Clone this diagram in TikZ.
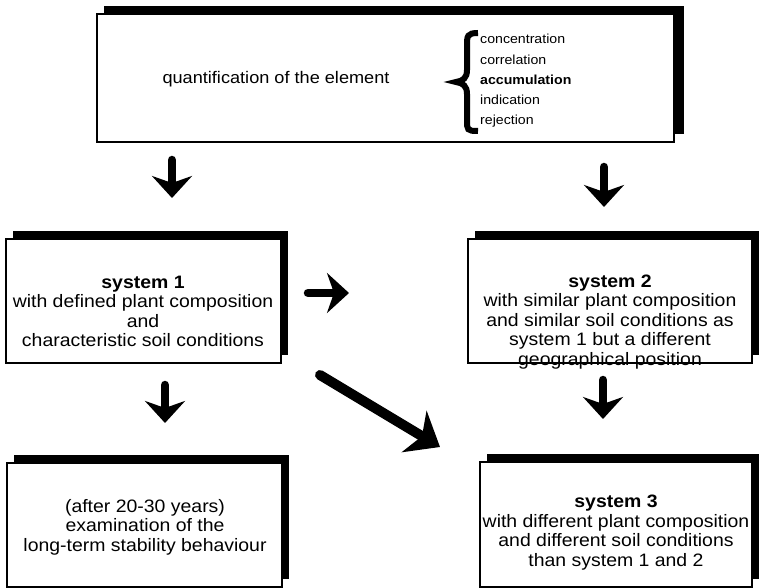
\documentclass[tikz,border=0pt]{standalone}
\usepackage{fontspec}
\setmainfont{Liberation Sans}[FakeStretch=1.08]
\usetikzlibrary{arrows.meta,shadows}
\tikzset{
  box/.style={draw=black, line width=2pt, fill=white, inner sep=0pt,
    general shadow={fill=black, shadow xshift=7pt, shadow yshift=8pt}},
  boxtext/.style={align=center, inner sep=0pt, font=\fontsize{18}{19.5}\selectfont},
  fat/.style={line width=8.5pt, line cap=round, -{Stealth[length=22pt,width=40pt,inset=7pt]}},
  fatter/.style={line width=10pt, line cap=round, -{Stealth[length=30pt,width=48pt,inset=9pt]}},
}
\begin{document}
\begin{tikzpicture}[x=1pt,y=-1pt]
\useasboundingbox (0,0) rectangle (760,588);
% boxes
\node[box, general shadow={fill=black, shadow xshift=10pt, shadow yshift=8pt},
      minimum width=577pt, minimum height=128pt] (top) at (385.5,78) {};
\node[box, minimum width=275pt, minimum height=124pt] (s1) at (143.5,301) {};
\node[box, minimum width=284pt, minimum height=124pt] (s2) at (610,301) {};
\node[box, minimum width=275pt, minimum height=124pt] (lt) at (144.5,525) {};
\node[box, minimum width=272pt, minimum height=125pt] (s3) at (616,524.5) {};
% top box content
\node[inner sep=0pt, font=\fontsize{16.8}{18}\selectfont] (quant) at (276,79) {quantification of the element};
\draw[line width=6pt, line cap=butt] (478,33) .. controls (467,33) and (467,36) .. (467,46)
  -- (467,70) .. controls (467,78) and (463,81) .. (456,82)
  .. controls (463,83) and (467,86) .. (467,94) -- (467,120)
  .. controls (467,130) and (467,131) .. (478,131);
\node[anchor=west, inner sep=0pt, align=left, font=\fontsize{13.1}{20.3}\selectfont] (list) at (480,81)
  {concentration\\correlation\\\textbf{accumulation}\\indication\\rejection};
% box texts
\node[boxtext] (t1) at (143,311.5) {\textbf{system 1}\\with defined plant composition\\and\\characteristic soil conditions};
\node[boxtext] (t2) at (610,322) {\textbf{system 2}\\with similar plant composition\\and similar soil conditions as\\system 1 but a different\\geographical position};
\node[boxtext] (t4) at (145,527) {(after 20-30 years)\\examination of the\\long-term stability behaviour};
\node[boxtext] (t3) at (616,532.5) {\textbf{system 3}\\with different plant composition\\and different soil conditions\\than system 1 and 2};
% arrow anchors
\coordinate (a1) at (172,160); \coordinate (a2) at (172,198);
\coordinate (b1) at (604,167); \coordinate (b2) at (604,207);
\coordinate (c1) at (308,293); \coordinate (c2) at (349,293);
\coordinate (d1) at (165,385); \coordinate (d2) at (165,423);
\coordinate (e1) at (603,380); \coordinate (e2) at (603,419);
\coordinate (f1) at (320,375); \coordinate (f2) at (440,447);
\draw[fat] (a1) -- (a2);
\draw[fat] (b1) -- (b2);
\draw[fat] (c1) -- (c2);
\draw[fat] (d1) -- (d2);
\draw[fat] (e1) -- (e2);
\draw[fatter] (f1) -- (f2);
\end{tikzpicture}
\end{document}
